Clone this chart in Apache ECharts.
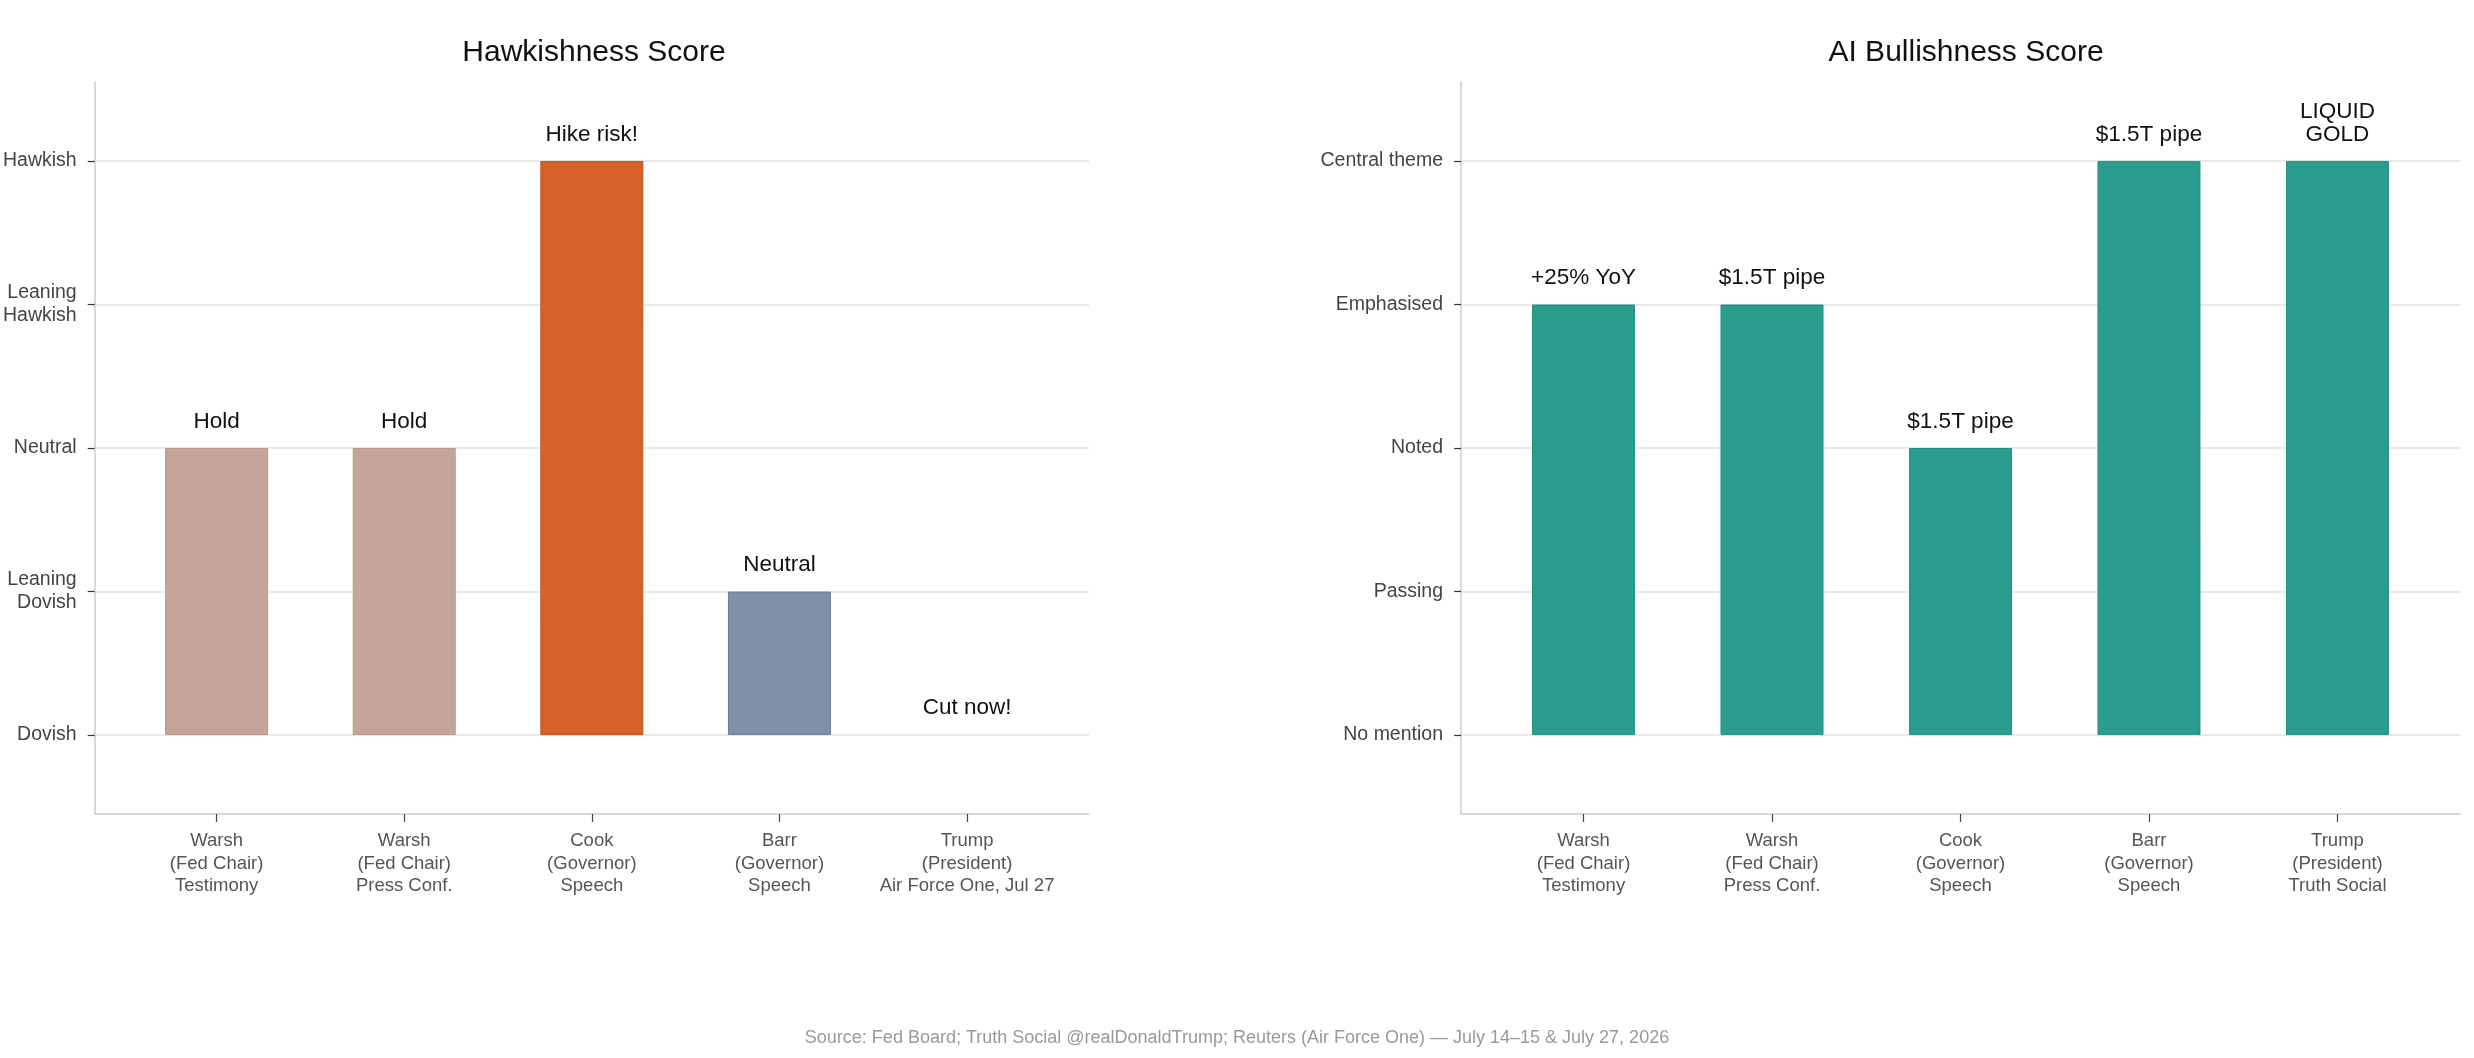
<!DOCTYPE html>
<html>
<head>
<meta charset="utf-8">
<style>
  html, body { margin: 0; padding: 0; background: #fff; }
  #chart_container { width: 2474px; height: 1058px; }
</style>
<script src="https://cdn.jsdelivr.net/npm/echarts@6/dist/echarts.min.js"></script>
</head>
<body>
<div id="chart_container"></div>
<script>
// speakers on the x axis
var hawkCategories = [
  "Warsh\n(Fed Chair)\nTestimony",
  "Warsh\n(Fed Chair)\nPress Conf.",
  "Cook\n(Governor)\nSpeech",
  "Barr\n(Governor)\nSpeech",
  "Trump\n(President)\nAir Force One, Jul 27",
];
var aiCategories = [
  "Warsh\n(Fed Chair)\nTestimony",
  "Warsh\n(Fed Chair)\nPress Conf.",
  "Cook\n(Governor)\nSpeech",
  "Barr\n(Governor)\nSpeech",
  "Trump\n(President)\nTruth Social",
];

// scores 0..4
var hawkScores = [2, 2, 4, 1, 0];
var aiScores = [3, 3, 2, 4, 4];

var hawkNotes = ["Hold", "Hold", "Hike risk!", "Neutral", "Cut now!"];
var aiNotes = ["+25% YoY", "$1.5T pipe", "$1.5T pipe", "$1.5T pipe", "LIQUID\nGOLD"];

var hawkLevels = ["Dovish", "Leaning\nDovish", "Neutral", "Leaning\nHawkish", "Hawkish"];
var aiLevels = ["No mention", "Passing", "Noted", "Emphasised", "Central theme"];

var hawkColors = ["#c4a49b", "#c4a49b", "#d5622a", "#8090a9", "rgba(0,0,0,0)"];
var hawkEdges = ["#b8978d", "#b8978d", "#c9531c", "#6c7e9c", "rgba(0,0,0,0)"];
var aiColor = "#2a9d8f";

var tickVals = [0, 1, 2, 3, 4];
var FONT = "Liberation Sans, Arial, sans-serif";

var dom = document.getElementById("chart_container");
var myChart = echarts.init(dom, null, { renderer: "canvas" });

function xAxisFor(idx, cats) {
  return {
    type: "value",
    gridIndex: idx,
    min: -0.65,
    max: 4.65,
    axisLine: { show: true, onZero: false, lineStyle: { color: "#cccccc", width: 1.5 } },
    axisTick: {
      show: true,
      customValues: tickVals,
      length: 8,
      lineStyle: { color: "#444", width: 1.2 },
    },
    axisLabel: {
      customValues: tickVals,
      margin: 16,
      fontFamily: FONT,
      fontSize: 18.5,
      lineHeight: 22.5,
      color: "#555",
      formatter: function (v) {
        return cats[Math.round(v)] || "";
      },
    },
    splitLine: { show: false },
  };
}

function yAxisFor(idx, levels) {
  return {
    type: "value",
    gridIndex: idx,
    min: -0.55,
    max: 4.55,
    axisLine: { show: true, onZero: false, lineStyle: { color: "#cccccc", width: 1.5 } },
    axisTick: {
      show: true,
      customValues: tickVals,
      length: 7,
      lineStyle: { color: "#333", width: 1.2 },
    },
    axisLabel: {
      customValues: tickVals,
      margin: 18,
      fontFamily: FONT,
      fontSize: 19.5,
      lineHeight: 23,
      color: "#444",
      align: "right",
      formatter: function (v) {
        return levels[Math.round(v)] || "";
      },
    },
    splitLine: { show: true, lineStyle: { color: "#e3e3e3", width: 1.5 } },
  };
}

var noteLabel = {
  show: true,
  position: "top",
  distance: 15,
  fontFamily: FONT,
  fontSize: 22.5,
  lineHeight: 23,
  color: "#111",
};

var option = {
  backgroundColor: "#ffffff",
  animation: false,
  title: [
    {
      text: "Hawkishness Score",
      left: 589,
      top: 33,
      textAlign: "center",
      textStyle: { fontFamily: FONT, fontSize: 30, fontWeight: "normal", color: "#111" },
    },
    {
      text: "AI Bullishness Score",
      left: 1961,
      top: 33,
      textAlign: "center",
      textStyle: { fontFamily: FONT, fontSize: 30, fontWeight: "normal", color: "#111" },
    },
    {
      text: "Source: Fed Board; Truth Social @realDonaldTrump; Reuters (Air Force One) \u2014 July 14\u201315 & July 27, 2026",
      left: "center",
      top: 1024,
      textStyle: { fontFamily: FONT, fontSize: 18, fontWeight: "normal", color: "#999" },
    },
  ],
  grid: [
    { left: 89, width: 1000, top: 82, bottom: 244 },
    { left: 1461, width: 999, top: 82, bottom: 244 },
  ],
  xAxis: [xAxisFor(0, hawkCategories), xAxisFor(1, aiCategories)],
  yAxis: [yAxisFor(0, hawkLevels), yAxisFor(1, aiLevels)],
  series: [
    {
      type: "bar",
      xAxisIndex: 0,
      yAxisIndex: 0,
      barWidth: 103,
      data: hawkScores.map(function (v, i) {
        return {
          value: [i, v],
          itemStyle: { color: hawkColors[i], borderColor: hawkEdges[i], borderWidth: 1 },
        };
      }),
      label: Object.assign({}, noteLabel, {
        formatter: function (p) {
          return hawkNotes[p.dataIndex];
        },
      }),
    },
    {
      type: "bar",
      xAxisIndex: 1,
      yAxisIndex: 1,
      barWidth: 103,
      data: aiScores.map(function (v, i) {
        return {
          value: [i, v],
          itemStyle: { color: aiColor, borderColor: "#22917f", borderWidth: 1 },
        };
      }),
      label: Object.assign({}, noteLabel, {
        formatter: function (p) {
          return aiNotes[p.dataIndex];
        },
      }),
    },
  ],
};

if (option && typeof option === "object") {
  myChart.setOption(option);
}

window.addEventListener("resize", myChart.resize);
</script>
</body>
</html>
